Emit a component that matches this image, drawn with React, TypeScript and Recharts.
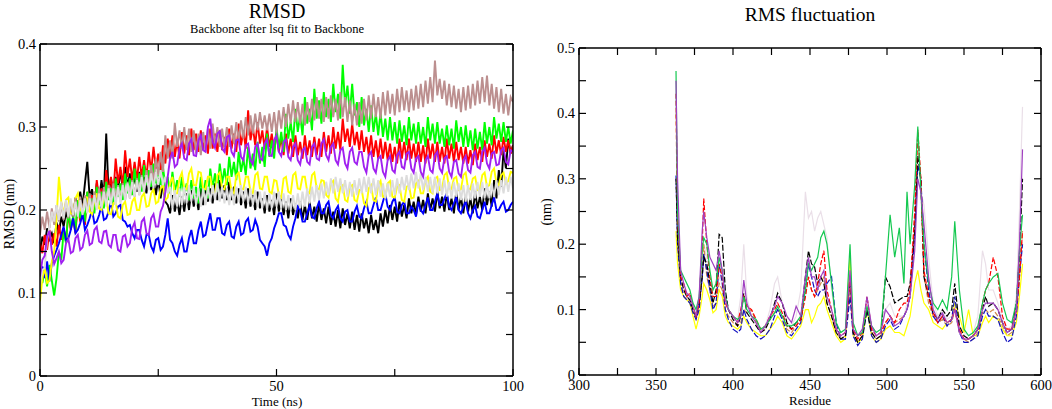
import React from "react";
import { LineChart, Line, XAxis, YAxis } from "recharts";

const SERIF = '"Liberation Serif", "DejaVu Serif", serif';

// ---------- RMSD (left panel), one frame every 0.5 ns ----------
const timeNs = [
  0, 0.5, 1, 1.5, 2, 2.5, 3, 3.5, 4, 4.5, 5, 5.5, 6, 6.5, 7, 7.5, 8, 8.5, 9, 9.5,
  10, 10.5, 11, 11.5, 12, 12.5, 13, 13.5, 14, 14.5, 15, 15.5, 16, 16.5, 17, 17.5, 18, 18.5, 19, 19.5,
  20, 20.5, 21, 21.5, 22, 22.5, 23, 23.5, 24, 24.5, 25, 25.5, 26, 26.5, 27, 27.5, 28, 28.5, 29, 29.5,
  30, 30.5, 31, 31.5, 32, 32.5, 33, 33.5, 34, 34.5, 35, 35.5, 36, 36.5, 37, 37.5, 38, 38.5, 39, 39.5,
  40, 40.5, 41, 41.5, 42, 42.5, 43, 43.5, 44, 44.5, 45, 45.5, 46, 46.5, 47, 47.5, 48, 48.5, 49, 49.5,
  50, 50.5, 51, 51.5, 52, 52.5, 53, 53.5, 54, 54.5, 55, 55.5, 56, 56.5, 57, 57.5, 58, 58.5, 59, 59.5,
  60, 60.5, 61, 61.5, 62, 62.5, 63, 63.5, 64, 64.5, 65, 65.5, 66, 66.5, 67, 67.5, 68, 68.5, 69, 69.5,
  70, 70.5, 71, 71.5, 72, 72.5, 73, 73.5, 74, 74.5, 75, 75.5, 76, 76.5, 77, 77.5, 78, 78.5, 79, 79.5,
  80, 80.5, 81, 81.5, 82, 82.5, 83, 83.5, 84, 84.5, 85, 85.5, 86, 86.5, 87, 87.5, 88, 88.5, 89, 89.5,
  90, 90.5, 91, 91.5, 92, 92.5, 93, 93.5, 94, 94.5, 95, 95.5, 96, 96.5, 97, 97.5, 98, 98.5, 99, 99.5,
  100,
];

const rmsdBlack = [
  0.150, 0.168, 0.158, 0.178, 0.165, 0.172, 0.160, 0.185, 0.172, 0.192, 0.180, 0.198, 0.186, 0.208, 0.190, 0.215, 0.200, 0.222, 0.205, 0.232,
  0.258, 0.215, 0.225, 0.205, 0.232, 0.212, 0.236, 0.215, 0.292, 0.220, 0.238, 0.218, 0.240, 0.222, 0.248, 0.226, 0.252, 0.228, 0.244, 0.224,
  0.242, 0.222, 0.246, 0.226, 0.240, 0.220, 0.244, 0.224, 0.236, 0.218, 0.238, 0.214, 0.232, 0.210, 0.206, 0.196, 0.218, 0.198, 0.212, 0.194,
  0.216, 0.198, 0.220, 0.200, 0.224, 0.204, 0.218, 0.200, 0.226, 0.206, 0.230, 0.210, 0.226, 0.208, 0.232, 0.212, 0.236, 0.214, 0.230, 0.212,
  0.234, 0.212, 0.228, 0.208, 0.226, 0.206, 0.222, 0.202, 0.226, 0.204, 0.218, 0.200, 0.222, 0.202, 0.214, 0.196, 0.218, 0.198, 0.212, 0.194,
  0.220, 0.198, 0.214, 0.194, 0.210, 0.190, 0.214, 0.194, 0.208, 0.190, 0.210, 0.188, 0.206, 0.188, 0.210, 0.190, 0.204, 0.186, 0.208, 0.188,
  0.202, 0.184, 0.204, 0.182, 0.198, 0.180, 0.200, 0.178, 0.202, 0.182, 0.196, 0.178, 0.198, 0.176, 0.194, 0.174, 0.196, 0.178, 0.190, 0.172,
  0.194, 0.176, 0.188, 0.172, 0.196, 0.180, 0.200, 0.184, 0.206, 0.188, 0.204, 0.186, 0.210, 0.192, 0.206, 0.190, 0.214, 0.196, 0.210, 0.194,
  0.216, 0.198, 0.212, 0.196, 0.220, 0.200, 0.214, 0.198, 0.222, 0.202, 0.216, 0.198, 0.220, 0.200, 0.214, 0.196, 0.222, 0.200, 0.216, 0.196,
  0.218, 0.198, 0.214, 0.196, 0.222, 0.202, 0.216, 0.200, 0.226, 0.206, 0.222, 0.204, 0.236, 0.214, 0.248, 0.228, 0.272, 0.250, 0.286, 0.268,
  0.278,
];
const rmsdRed = [
  0.160, 0.148, 0.170, 0.152, 0.176, 0.158, 0.172, 0.156, 0.182, 0.164, 0.178, 0.162, 0.196, 0.176, 0.190, 0.172, 0.208, 0.186, 0.200, 0.182,
  0.222, 0.198, 0.218, 0.200, 0.236, 0.212, 0.226, 0.206, 0.248, 0.222, 0.240, 0.218, 0.262, 0.232, 0.252, 0.228, 0.272, 0.240, 0.262, 0.236,
  0.258, 0.236, 0.264, 0.240, 0.260, 0.238, 0.270, 0.246, 0.276, 0.250, 0.268, 0.246, 0.278, 0.256, 0.286, 0.262, 0.290, 0.264, 0.284, 0.262,
  0.294, 0.268, 0.290, 0.266, 0.298, 0.272, 0.292, 0.270, 0.296, 0.272, 0.290, 0.268, 0.298, 0.274, 0.292, 0.270, 0.296, 0.272, 0.288, 0.266,
  0.298, 0.274, 0.292, 0.270, 0.304, 0.278, 0.296, 0.274, 0.320, 0.284, 0.300, 0.278, 0.306, 0.280, 0.296, 0.274, 0.300, 0.276, 0.292, 0.270,
  0.294, 0.270, 0.288, 0.266, 0.292, 0.268, 0.286, 0.264, 0.290, 0.266, 0.282, 0.262, 0.290, 0.266, 0.284, 0.264, 0.288, 0.266, 0.286, 0.264,
  0.294, 0.270, 0.290, 0.268, 0.300, 0.274, 0.294, 0.272, 0.310, 0.282, 0.298, 0.276, 0.304, 0.278, 0.294, 0.272, 0.296, 0.270, 0.288, 0.266,
  0.290, 0.264, 0.284, 0.262, 0.286, 0.262, 0.282, 0.260, 0.280, 0.258, 0.276, 0.256, 0.286, 0.262, 0.282, 0.260, 0.286, 0.262, 0.280, 0.258,
  0.282, 0.258, 0.278, 0.256, 0.286, 0.262, 0.280, 0.258, 0.282, 0.258, 0.276, 0.256, 0.286, 0.262, 0.280, 0.258, 0.282, 0.260, 0.276, 0.256,
  0.276, 0.256, 0.272, 0.254, 0.280, 0.260, 0.276, 0.258, 0.284, 0.264, 0.280, 0.262, 0.290, 0.268, 0.284, 0.266, 0.288, 0.270, 0.284, 0.268,
  0.278,
];
const rmsdGreen = [
  0.130, 0.112, 0.128, 0.108, 0.134, 0.115, 0.097, 0.118, 0.150, 0.140, 0.175, 0.160, 0.200, 0.178, 0.192, 0.176, 0.212, 0.190, 0.204, 0.186,
  0.222, 0.200, 0.214, 0.196, 0.228, 0.206, 0.222, 0.202, 0.234, 0.212, 0.226, 0.206, 0.238, 0.216, 0.232, 0.212, 0.244, 0.220, 0.238, 0.218,
  0.250, 0.226, 0.244, 0.222, 0.254, 0.230, 0.248, 0.228, 0.256, 0.232, 0.250, 0.230, 0.252, 0.228, 0.240, 0.220, 0.246, 0.222, 0.236, 0.216,
  0.240, 0.218, 0.232, 0.212, 0.236, 0.214, 0.228, 0.208, 0.240, 0.216, 0.236, 0.214, 0.250, 0.226, 0.244, 0.222, 0.256, 0.232, 0.250, 0.230,
  0.264, 0.240, 0.258, 0.236, 0.270, 0.246, 0.262, 0.242, 0.276, 0.250, 0.268, 0.248, 0.282, 0.256, 0.276, 0.252, 0.292, 0.264, 0.284, 0.262,
  0.300, 0.274, 0.294, 0.270, 0.316, 0.286, 0.306, 0.282, 0.322, 0.294, 0.314, 0.290, 0.336, 0.304, 0.322, 0.296, 0.346, 0.310, 0.332, 0.304,
  0.342, 0.312, 0.334, 0.306, 0.352, 0.318, 0.340, 0.310, 0.375, 0.326, 0.350, 0.316, 0.352, 0.314, 0.330, 0.300, 0.336, 0.302, 0.322, 0.294,
  0.326, 0.294, 0.316, 0.290, 0.318, 0.288, 0.310, 0.284, 0.312, 0.284, 0.306, 0.280, 0.308, 0.282, 0.302, 0.278, 0.312, 0.284, 0.304, 0.280,
  0.306, 0.280, 0.300, 0.276, 0.312, 0.284, 0.304, 0.280, 0.306, 0.280, 0.298, 0.276, 0.302, 0.278, 0.298, 0.274, 0.308, 0.282, 0.300, 0.276,
  0.302, 0.276, 0.296, 0.272, 0.298, 0.274, 0.294, 0.272, 0.306, 0.280, 0.300, 0.278, 0.312, 0.286, 0.304, 0.282, 0.306, 0.282, 0.300, 0.280,
  0.296,
];
const rmsdBlue = [
  0.120, 0.132, 0.118, 0.138, 0.114, 0.136, 0.145, 0.152, 0.160, 0.170, 0.180, 0.164, 0.166, 0.176, 0.190, 0.172, 0.176, 0.184, 0.195, 0.176,
  0.182, 0.190, 0.200, 0.184, 0.186, 0.194, 0.205, 0.188, 0.190, 0.198, 0.210, 0.192, 0.196, 0.204, 0.206, 0.188, 0.186, 0.180, 0.182, 0.172,
  0.166, 0.176, 0.176, 0.164, 0.156, 0.170, 0.170, 0.156, 0.150, 0.164, 0.166, 0.152, 0.156, 0.170, 0.190, 0.164, 0.160, 0.150, 0.145, 0.158,
  0.166, 0.150, 0.150, 0.166, 0.176, 0.160, 0.160, 0.176, 0.186, 0.168, 0.170, 0.184, 0.196, 0.176, 0.176, 0.190, 0.190, 0.172, 0.170, 0.182,
  0.186, 0.168, 0.166, 0.180, 0.186, 0.170, 0.172, 0.186, 0.190, 0.174, 0.176, 0.188, 0.180, 0.164, 0.160, 0.156, 0.145, 0.160, 0.166, 0.178,
  0.186, 0.196, 0.196, 0.182, 0.180, 0.170, 0.165, 0.180, 0.190, 0.204, 0.200, 0.186, 0.186, 0.196, 0.205, 0.192, 0.190, 0.202, 0.210, 0.196,
  0.196, 0.206, 0.210, 0.194, 0.190, 0.200, 0.205, 0.190, 0.186, 0.198, 0.200, 0.186, 0.186, 0.198, 0.205, 0.192, 0.190, 0.202, 0.210, 0.196,
  0.196, 0.206, 0.215, 0.200, 0.200, 0.210, 0.220, 0.204, 0.200, 0.210, 0.215, 0.198, 0.196, 0.206, 0.210, 0.196, 0.196, 0.204, 0.200, 0.192,
  0.210, 0.200, 0.196, 0.206, 0.215, 0.200, 0.200, 0.210, 0.220, 0.206, 0.206, 0.214, 0.220, 0.204, 0.200, 0.208, 0.215, 0.200, 0.196, 0.204,
  0.210, 0.196, 0.190, 0.200, 0.205, 0.192, 0.190, 0.200, 0.210, 0.196, 0.196, 0.206, 0.215, 0.200, 0.200, 0.206, 0.210, 0.198, 0.200, 0.206,
  0.210,
];
const rmsdYellow = [
  0.090, 0.118, 0.130, 0.112, 0.115, 0.138, 0.150, 0.190, 0.240, 0.210, 0.195, 0.212, 0.215, 0.196, 0.195, 0.214, 0.220, 0.200, 0.200, 0.216,
  0.215, 0.198, 0.195, 0.212, 0.220, 0.202, 0.200, 0.214, 0.215, 0.196, 0.195, 0.208, 0.210, 0.192, 0.190, 0.206, 0.210, 0.194, 0.195, 0.210,
  0.215, 0.200, 0.200, 0.216, 0.220, 0.204, 0.205, 0.220, 0.225, 0.208, 0.210, 0.226, 0.230, 0.212, 0.215, 0.232, 0.240, 0.220, 0.220, 0.238,
  0.245, 0.226, 0.225, 0.244, 0.250, 0.230, 0.230, 0.246, 0.245, 0.226, 0.225, 0.240, 0.240, 0.222, 0.220, 0.242, 0.245, 0.226, 0.225, 0.240,
  0.240, 0.222, 0.220, 0.242, 0.245, 0.226, 0.225, 0.240, 0.240, 0.222, 0.220, 0.242, 0.245, 0.226, 0.225, 0.240, 0.240, 0.222, 0.220, 0.236,
  0.235, 0.218, 0.215, 0.238, 0.240, 0.222, 0.220, 0.242, 0.245, 0.226, 0.225, 0.240, 0.240, 0.222, 0.220, 0.242, 0.245, 0.226, 0.225, 0.236,
  0.235, 0.218, 0.215, 0.232, 0.235, 0.214, 0.210, 0.228, 0.230, 0.212, 0.210, 0.228, 0.230, 0.212, 0.210, 0.224, 0.225, 0.208, 0.205, 0.226,
  0.230, 0.212, 0.210, 0.230, 0.235, 0.216, 0.215, 0.232, 0.235, 0.216, 0.215, 0.228, 0.230, 0.212, 0.210, 0.228, 0.230, 0.214, 0.215, 0.232,
  0.235, 0.220, 0.220, 0.236, 0.240, 0.222, 0.220, 0.238, 0.240, 0.224, 0.225, 0.242, 0.245, 0.226, 0.225, 0.238, 0.240, 0.224, 0.225, 0.242,
  0.245, 0.226, 0.225, 0.238, 0.240, 0.224, 0.225, 0.242, 0.245, 0.228, 0.230, 0.246, 0.250, 0.232, 0.230, 0.242, 0.245, 0.232, 0.235, 0.246,
  0.245,
];
const rmsdBrown = [
  0.170, 0.192, 0.176, 0.198, 0.178, 0.202, 0.182, 0.206, 0.186, 0.208, 0.188, 0.210, 0.190, 0.212, 0.192, 0.214, 0.194, 0.216, 0.196, 0.218,
  0.198, 0.220, 0.200, 0.222, 0.202, 0.226, 0.206, 0.228, 0.208, 0.230, 0.210, 0.232, 0.212, 0.230, 0.210, 0.232, 0.212, 0.234, 0.214, 0.236,
  0.216, 0.238, 0.218, 0.242, 0.222, 0.248, 0.228, 0.254, 0.234, 0.262, 0.242, 0.270, 0.246, 0.290, 0.262, 0.284, 0.262, 0.305, 0.276, 0.296,
  0.274, 0.300, 0.272, 0.298, 0.270, 0.296, 0.268, 0.292, 0.266, 0.294, 0.270, 0.298, 0.274, 0.304, 0.278, 0.300, 0.276, 0.298, 0.276, 0.300,
  0.276, 0.302, 0.280, 0.306, 0.284, 0.308, 0.286, 0.312, 0.290, 0.314, 0.292, 0.316, 0.296, 0.318, 0.298, 0.314, 0.296, 0.316, 0.294, 0.318,
  0.292, 0.320, 0.298, 0.324, 0.300, 0.328, 0.304, 0.332, 0.306, 0.330, 0.304, 0.328, 0.302, 0.330, 0.306, 0.334, 0.308, 0.336, 0.310, 0.334,
  0.306, 0.336, 0.310, 0.338, 0.312, 0.334, 0.308, 0.342, 0.312, 0.336, 0.306, 0.332, 0.302, 0.328, 0.302, 0.330, 0.304, 0.334, 0.308, 0.338,
  0.310, 0.340, 0.312, 0.336, 0.310, 0.342, 0.314, 0.344, 0.316, 0.340, 0.314, 0.346, 0.318, 0.348, 0.320, 0.344, 0.318, 0.346, 0.320, 0.350,
  0.322, 0.352, 0.324, 0.356, 0.328, 0.360, 0.330, 0.380, 0.338, 0.358, 0.334, 0.356, 0.326, 0.352, 0.324, 0.350, 0.322, 0.346, 0.318, 0.348,
  0.320, 0.350, 0.322, 0.352, 0.326, 0.356, 0.328, 0.360, 0.330, 0.362, 0.326, 0.352, 0.322, 0.348, 0.318, 0.346, 0.316, 0.340, 0.314, 0.336,
  0.330,
];
const rmsdGray = [
  0.110, 0.128, 0.130, 0.165, 0.180, 0.198, 0.186, 0.206, 0.188, 0.210, 0.190, 0.212, 0.192, 0.214, 0.194, 0.210, 0.192, 0.212, 0.194, 0.214,
  0.196, 0.214, 0.198, 0.218, 0.200, 0.220, 0.202, 0.222, 0.204, 0.226, 0.206, 0.226, 0.206, 0.228, 0.208, 0.230, 0.212, 0.232, 0.214, 0.234,
  0.216, 0.236, 0.218, 0.240, 0.222, 0.242, 0.224, 0.244, 0.226, 0.246, 0.230, 0.248, 0.230, 0.240, 0.220, 0.228, 0.202, 0.224, 0.204, 0.226,
  0.206, 0.228, 0.208, 0.230, 0.210, 0.228, 0.206, 0.226, 0.204, 0.226, 0.206, 0.228, 0.210, 0.230, 0.212, 0.232, 0.210, 0.228, 0.208, 0.226,
  0.206, 0.226, 0.206, 0.228, 0.210, 0.230, 0.210, 0.228, 0.208, 0.226, 0.206, 0.224, 0.204, 0.222, 0.202, 0.222, 0.200, 0.220, 0.202, 0.222,
  0.204, 0.222, 0.202, 0.220, 0.200, 0.218, 0.200, 0.218, 0.200, 0.220, 0.202, 0.222, 0.204, 0.226, 0.208, 0.228, 0.210, 0.230, 0.212, 0.232,
  0.214, 0.234, 0.218, 0.238, 0.220, 0.240, 0.222, 0.238, 0.220, 0.236, 0.216, 0.234, 0.216, 0.236, 0.218, 0.238, 0.220, 0.240, 0.222, 0.240,
  0.220, 0.238, 0.218, 0.236, 0.216, 0.232, 0.214, 0.232, 0.216, 0.236, 0.218, 0.238, 0.220, 0.240, 0.224, 0.242, 0.224, 0.244, 0.226, 0.246,
  0.226, 0.244, 0.224, 0.240, 0.222, 0.240, 0.220, 0.240, 0.220, 0.238, 0.218, 0.236, 0.216, 0.234, 0.214, 0.234, 0.216, 0.232, 0.212, 0.230,
  0.210, 0.230, 0.212, 0.232, 0.214, 0.234, 0.216, 0.234, 0.214, 0.232, 0.214, 0.232, 0.216, 0.236, 0.218, 0.236, 0.220, 0.240, 0.222, 0.240,
  0.226,
];
const rmsdViolet = [
  0.120, 0.140, 0.145, 0.168, 0.175, 0.150, 0.135, 0.142, 0.150, 0.136, 0.140, 0.160, 0.165, 0.148, 0.150, 0.166, 0.170, 0.152, 0.155, 0.170,
  0.175, 0.158, 0.160, 0.176, 0.180, 0.162, 0.160, 0.174, 0.175, 0.158, 0.155, 0.170, 0.170, 0.152, 0.150, 0.168, 0.170, 0.156, 0.160, 0.178,
  0.185, 0.166, 0.165, 0.186, 0.190, 0.172, 0.170, 0.190, 0.195, 0.180, 0.180, 0.198, 0.205, 0.222, 0.240, 0.262, 0.270, 0.252, 0.255, 0.274,
  0.280, 0.262, 0.260, 0.280, 0.285, 0.266, 0.265, 0.284, 0.290, 0.272, 0.270, 0.300, 0.310, 0.282, 0.275, 0.292, 0.295, 0.274, 0.270, 0.288,
  0.290, 0.270, 0.265, 0.284, 0.285, 0.264, 0.260, 0.278, 0.280, 0.260, 0.255, 0.276, 0.280, 0.262, 0.260, 0.280, 0.285, 0.266, 0.265, 0.284,
  0.290, 0.270, 0.265, 0.282, 0.285, 0.264, 0.260, 0.276, 0.280, 0.260, 0.255, 0.272, 0.275, 0.258, 0.255, 0.276, 0.280, 0.262, 0.260, 0.280,
  0.285, 0.266, 0.260, 0.276, 0.280, 0.260, 0.255, 0.272, 0.275, 0.256, 0.250, 0.270, 0.275, 0.258, 0.255, 0.270, 0.270, 0.252, 0.245, 0.266,
  0.270, 0.250, 0.245, 0.262, 0.265, 0.246, 0.240, 0.260, 0.265, 0.248, 0.245, 0.266, 0.270, 0.252, 0.250, 0.268, 0.270, 0.250, 0.245, 0.262,
  0.265, 0.246, 0.240, 0.260, 0.265, 0.248, 0.245, 0.266, 0.270, 0.250, 0.245, 0.262, 0.265, 0.246, 0.240, 0.258, 0.260, 0.244, 0.240, 0.260,
  0.265, 0.248, 0.245, 0.266, 0.270, 0.252, 0.250, 0.270, 0.275, 0.256, 0.250, 0.268, 0.270, 0.254, 0.255, 0.272, 0.275, 0.258, 0.255, 0.272,
  0.270,
];

const rmsdXTicks = [0, 25, 50, 75, 100];
const rmsdXLabels = [0, 50, 100];
const rmsdYTicks = [0, 0.05, 0.1, 0.15, 0.2, 0.25, 0.3, 0.35, 0.4];
const rmsdYLabels = [0, 0.1, 0.2, 0.3, 0.4];

// ---------- RMSF (right panel) ----------
const residues = [
  363, 364, 366, 368, 370, 372, 374, 376, 378, 380, 381, 383, 385, 387, 389, 391, 393, 395, 397, 400,
  403, 405, 407, 409, 412, 415, 418, 421, 424, 427, 429, 432, 435, 438, 441, 444, 447, 449, 451, 453,
  455, 457, 459, 461, 464, 467, 470, 473, 476, 478, 481, 484, 487, 490, 493, 496, 499, 502, 505, 508,
  511, 513, 515, 518, 520, 522, 524, 527, 530, 533, 536, 539, 542, 544, 547, 550, 553, 556, 559, 562,
  564, 566, 569, 572, 575, 578, 581, 584, 586, 588,
];

const rmsfGreen = [
  0.465, 0.25, 0.16, 0.15, 0.14, 0.13, 0.11, 0.10, 0.12, 0.19, 0.21, 0.20, 0.16, 0.13, 0.14, 0.18, 0.16, 0.12, 0.10, 0.09,
  0.085, 0.09, 0.12, 0.10, 0.09, 0.085, 0.07, 0.075, 0.085, 0.095, 0.105, 0.09, 0.075, 0.075, 0.08, 0.09, 0.13, 0.17, 0.16, 0.17,
  0.18, 0.21, 0.22, 0.20, 0.14, 0.08, 0.065, 0.07, 0.20, 0.08, 0.06, 0.065, 0.105, 0.075, 0.065, 0.07, 0.15, 0.245, 0.18, 0.225,
  0.14, 0.28, 0.20, 0.29, 0.38, 0.28, 0.20, 0.14, 0.11, 0.10, 0.115, 0.10, 0.15, 0.235, 0.13, 0.07, 0.06, 0.065, 0.075, 0.11,
  0.13, 0.14, 0.15, 0.155, 0.11, 0.085, 0.08, 0.11, 0.19, 0.245,
];
const rmsfBlack = [
  0.30, 0.21, 0.15, 0.13, 0.12, 0.115, 0.10, 0.09, 0.11, 0.15, 0.18, 0.17, 0.14, 0.11, 0.13, 0.215, 0.21, 0.13, 0.10, 0.085,
  0.075, 0.09, 0.125, 0.095, 0.085, 0.075, 0.065, 0.07, 0.085, 0.11, 0.125, 0.11, 0.08, 0.07, 0.08, 0.085, 0.15, 0.19, 0.17, 0.165,
  0.14, 0.15, 0.14, 0.11, 0.09, 0.065, 0.055, 0.06, 0.15, 0.065, 0.05, 0.06, 0.10, 0.065, 0.055, 0.06, 0.15, 0.135, 0.11, 0.115,
  0.12, 0.12, 0.14, 0.22, 0.335, 0.30, 0.15, 0.12, 0.095, 0.085, 0.10, 0.09, 0.10, 0.14, 0.075, 0.06, 0.055, 0.06, 0.07, 0.10,
  0.12, 0.105, 0.11, 0.10, 0.08, 0.065, 0.07, 0.11, 0.18, 0.30,
];
const rmsfRed = [
  0.43, 0.24, 0.15, 0.14, 0.12, 0.125, 0.105, 0.09, 0.11, 0.20, 0.27, 0.20, 0.15, 0.12, 0.12, 0.17, 0.15, 0.11, 0.10, 0.09,
  0.08, 0.10, 0.12, 0.105, 0.10, 0.085, 0.07, 0.075, 0.09, 0.10, 0.11, 0.095, 0.075, 0.07, 0.075, 0.085, 0.12, 0.15, 0.13, 0.12,
  0.14, 0.17, 0.19, 0.13, 0.10, 0.07, 0.06, 0.065, 0.15, 0.07, 0.055, 0.065, 0.12, 0.07, 0.06, 0.065, 0.08, 0.09, 0.08, 0.10,
  0.11, 0.11, 0.13, 0.25, 0.375, 0.30, 0.16, 0.12, 0.095, 0.08, 0.09, 0.08, 0.085, 0.10, 0.07, 0.055, 0.055, 0.06, 0.07, 0.11,
  0.13, 0.14, 0.18, 0.15, 0.09, 0.07, 0.07, 0.10, 0.15, 0.22,
];
const rmsfBlue = [
  0.305, 0.20, 0.14, 0.12, 0.115, 0.11, 0.095, 0.085, 0.10, 0.15, 0.185, 0.16, 0.13, 0.10, 0.11, 0.17, 0.14, 0.10, 0.085, 0.07,
  0.065, 0.07, 0.10, 0.085, 0.07, 0.06, 0.055, 0.06, 0.07, 0.09, 0.10, 0.085, 0.065, 0.06, 0.07, 0.08, 0.13, 0.17, 0.15, 0.13,
  0.12, 0.13, 0.13, 0.14, 0.15, 0.08, 0.055, 0.055, 0.12, 0.06, 0.045, 0.055, 0.10, 0.06, 0.05, 0.055, 0.075, 0.085, 0.07, 0.075,
  0.09, 0.10, 0.12, 0.21, 0.32, 0.30, 0.20, 0.13, 0.09, 0.08, 0.09, 0.075, 0.085, 0.12, 0.065, 0.05, 0.05, 0.055, 0.06, 0.09,
  0.10, 0.09, 0.09, 0.085, 0.065, 0.05, 0.055, 0.09, 0.15, 0.20,
];
const rmsfYellow = [
  0.22, 0.17, 0.13, 0.12, 0.115, 0.11, 0.09, 0.07, 0.09, 0.12, 0.14, 0.13, 0.115, 0.095, 0.10, 0.13, 0.12, 0.09, 0.08, 0.075,
  0.07, 0.075, 0.09, 0.08, 0.07, 0.065, 0.06, 0.06, 0.07, 0.08, 0.09, 0.08, 0.06, 0.055, 0.065, 0.075, 0.10, 0.10, 0.08, 0.09,
  0.105, 0.11, 0.12, 0.10, 0.08, 0.06, 0.05, 0.055, 0.185, 0.06, 0.05, 0.055, 0.10, 0.06, 0.05, 0.055, 0.07, 0.075, 0.065, 0.065,
  0.06, 0.075, 0.09, 0.14, 0.16, 0.13, 0.11, 0.10, 0.08, 0.075, 0.07, 0.08, 0.085, 0.11, 0.09, 0.065, 0.10, 0.06, 0.06, 0.08,
  0.09, 0.08, 0.09, 0.085, 0.07, 0.06, 0.06, 0.08, 0.12, 0.17,
];
const rmsfViolet = [
  0.45, 0.30, 0.16, 0.14, 0.125, 0.12, 0.105, 0.09, 0.12, 0.22, 0.25, 0.21, 0.18, 0.17, 0.16, 0.19, 0.16, 0.115, 0.10, 0.09,
  0.08, 0.09, 0.145, 0.11, 0.09, 0.08, 0.065, 0.075, 0.09, 0.105, 0.12, 0.11, 0.09, 0.08, 0.105, 0.09, 0.15, 0.18, 0.15, 0.15,
  0.13, 0.15, 0.16, 0.12, 0.10, 0.07, 0.06, 0.065, 0.16, 0.07, 0.06, 0.07, 0.12, 0.075, 0.06, 0.065, 0.10, 0.09, 0.075, 0.08,
  0.09, 0.10, 0.12, 0.19, 0.30, 0.28, 0.23, 0.15, 0.10, 0.085, 0.095, 0.08, 0.085, 0.10, 0.065, 0.055, 0.055, 0.06, 0.07, 0.10,
  0.11, 0.11, 0.11, 0.10, 0.08, 0.065, 0.07, 0.10, 0.20, 0.345,
];
const rmsfPink = [
  0.42, 0.26, 0.15, 0.13, 0.125, 0.12, 0.105, 0.09, 0.11, 0.17, 0.20, 0.18, 0.15, 0.12, 0.12, 0.15, 0.14, 0.11, 0.10, 0.09,
  0.085, 0.12, 0.20, 0.12, 0.09, 0.08, 0.065, 0.075, 0.10, 0.14, 0.15, 0.11, 0.08, 0.075, 0.09, 0.13, 0.28, 0.24, 0.25, 0.22,
  0.24, 0.25, 0.23, 0.21, 0.13, 0.08, 0.065, 0.07, 0.12, 0.07, 0.06, 0.07, 0.11, 0.075, 0.065, 0.07, 0.10, 0.11, 0.09, 0.09,
  0.09, 0.11, 0.14, 0.22, 0.30, 0.28, 0.26, 0.18, 0.11, 0.09, 0.10, 0.085, 0.09, 0.10, 0.075, 0.065, 0.06, 0.065, 0.09, 0.19,
  0.17, 0.13, 0.13, 0.11, 0.085, 0.07, 0.075, 0.12, 0.25, 0.41,
];
const rmsfBrown = [
  0.40, 0.22, 0.14, 0.12, 0.115, 0.115, 0.10, 0.085, 0.10, 0.15, 0.20, 0.15, 0.13, 0.105, 0.11, 0.14, 0.13, 0.10, 0.09, 0.08,
  0.075, 0.08, 0.10, 0.095, 0.10, 0.08, 0.065, 0.07, 0.085, 0.095, 0.10, 0.09, 0.07, 0.065, 0.075, 0.085, 0.12, 0.15, 0.13, 0.12,
  0.13, 0.14, 0.15, 0.11, 0.09, 0.065, 0.055, 0.06, 0.14, 0.065, 0.05, 0.06, 0.10, 0.065, 0.055, 0.06, 0.08, 0.09, 0.08, 0.085,
  0.09, 0.10, 0.12, 0.24, 0.37, 0.29, 0.15, 0.11, 0.09, 0.08, 0.085, 0.075, 0.08, 0.10, 0.065, 0.055, 0.05, 0.055, 0.065, 0.095,
  0.10, 0.095, 0.10, 0.09, 0.075, 0.06, 0.065, 0.095, 0.15, 0.22,
];

const rmsfXTicks = [300, 325, 350, 375, 400, 425, 450, 475, 500, 525, 550, 575, 600];
const rmsfXLabels = [300, 350, 400, 450, 500, 550, 600];
const rmsfYTicks = [0, 0.05, 0.1, 0.15, 0.2, 0.25, 0.3, 0.35, 0.4, 0.45, 0.5];
const rmsfYLabels = [0, 0.1, 0.2, 0.3, 0.4, 0.5];

const rmsdSeries = [
  { key: "black", color: "#000000", values: rmsdBlack },
  { key: "red", color: "#ff0000", values: rmsdRed },
  { key: "green", color: "#00ff00", values: rmsdGreen },
  { key: "blue", color: "#0000ff", values: rmsdBlue },
  { key: "yellow", color: "#ffff00", values: rmsdYellow },
  { key: "brown", color: "#bc8f8f", values: rmsdBrown },
  { key: "gray", color: "#dcdcdc", values: rmsdGray },
  { key: "violet", color: "#a020f0", values: rmsdViolet },
];

const rmsfSeries = [
  { key: "pink", color: "#eadfe8", values: rmsfPink, dash: undefined },
  { key: "brown", color: "#d08a4a", values: rmsfBrown, dash: "5 2" },
  { key: "yellow", color: "#ffff00", values: rmsfYellow, dash: undefined },
  { key: "blue", color: "#1010c0", values: rmsfBlue, dash: "6 2" },
  { key: "black", color: "#000000", values: rmsfBlack, dash: "6 2" },
  { key: "red", color: "#ff0000", values: rmsfRed, dash: "5 2" },
  { key: "green", color: "#14c850", values: rmsfGreen, dash: undefined },
  { key: "violet", color: "#a040c0", values: rmsfViolet, dash: undefined },
];

const rmsdRows = timeNs.map((t, i) => {
  const row: Record<string, number> = { t };
  rmsdSeries.forEach((s) => (row[s.key] = s.values[i]));
  return row;
});

const rmsfRows = residues.map((r, i) => {
  const row: Record<string, number> = { r };
  rmsfSeries.forEach((s) => (row[s.key] = s.values[i]));
  return row;
});

const hasLabel = (labels: number[], v: number) => labels.some((l) => Math.abs(l - v) < 1e-9);

// tick text in Times-like serif; only some ticks carry a number
const makeTick = (labels: number[], side: "bottom" | "left") => (props: any) => {
  const { x, y, payload } = props;
  const v = payload.value as number;
  if (!hasLabel(labels, v)) return <g />;
  const txt = String(Number(v.toFixed(2)));
  return (
    <text
      x={x}
      y={y}
      dy={side === "bottom" ? "0.72em" : "0.34em"}
      textAnchor={side === "bottom" ? "middle" : "end"}
      style={{ fontFamily: SERIF, fontSize: 14.5 }}
      fill="#000"
    >
      {txt}
    </text>
  );
};

const frame = { stroke: "#000", strokeWidth: 1.5 };
const tickLine = { stroke: "#000", strokeWidth: 1.2 };

// xmgrace-like box: inward ticks on all four sides, labels only on bottom/left
function axes(
  xKey: string,
  xDomain: [number, number],
  xTicks: number[],
  xLabels: number[],
  yDomain: [number, number],
  yTicks: number[],
  yLabels: number[]
) {
  return [
    <XAxis
      key="xb"
      xAxisId="b"
      dataKey={xKey}
      type="number"
      domain={xDomain}
      ticks={xTicks}
      interval={0}
      allowDataOverflow
      height={1}
      tickSize={-7}
      tickMargin={12}
      tick={makeTick(xLabels, "bottom")}
      axisLine={frame}
      tickLine={tickLine}
    />,
    <XAxis
      key="xt"
      xAxisId="t"
      orientation="top"
      dataKey={xKey}
      type="number"
      domain={xDomain}
      ticks={xTicks}
      interval={0}
      allowDataOverflow
      height={1}
      tickSize={-7}
      tick={makeTick([], "bottom")}
      axisLine={frame}
      tickLine={tickLine}
    />,
    <YAxis
      key="yl"
      yAxisId="l"
      type="number"
      domain={yDomain}
      ticks={yTicks}
      interval={0}
      allowDataOverflow
      width={1}
      tickSize={-7}
      tickMargin={11}
      tick={makeTick(yLabels, "left")}
      axisLine={frame}
      tickLine={tickLine}
    />,
    <YAxis
      key="yr"
      yAxisId="r"
      orientation="right"
      type="number"
      domain={yDomain}
      ticks={yTicks}
      interval={0}
      allowDataOverflow
      width={1}
      tickSize={-7}
      tick={makeTick([], "left")}
      axisLine={frame}
      tickLine={tickLine}
    />,
  ];
}

const textBase: React.CSSProperties = {
  position: "absolute",
  fontFamily: SERIF,
  color: "#000",
  whiteSpace: "nowrap",
  lineHeight: 1,
};

export default function App() {
  return (
    <div style={{ position: "absolute", left: 0, top: 0, width: 1052, height: 409, background: "#fff", overflow: "hidden" }}>
      {/* left panel */}
      <div style={{ position: "absolute", left: 0, top: 0 }}>
        <LineChart width={530} height={409} data={rmsdRows} margin={{ top: 43, right: 16, bottom: 32, left: 39 }}>
          {axes("t", [0, 100], rmsdXTicks, rmsdXLabels, [0, 0.4], rmsdYTicks, rmsdYLabels)}
          {rmsdSeries.map((s) => (
            <Line
              key={s.key}
              xAxisId="b"
              yAxisId="l"
              dataKey={s.key}
              type="linear"
              stroke={s.color}
              strokeWidth={1.9}
              dot={false}
              isAnimationActive={false}
            />
          ))}
        </LineChart>
      </div>
      <div style={{ ...textBase, left: 277, top: 1, fontSize: 20, transform: "translateX(-50%)" }}>RMSD</div>
      <div style={{ ...textBase, left: 277, top: 23, fontSize: 12.5, transform: "translateX(-50%)" }}>
        Backbone after lsq fit to Backbone
      </div>
      <div style={{ ...textBase, left: 277, top: 395, fontSize: 13, transform: "translateX(-50%)" }}>Time (ns)</div>
      <div
        style={{ ...textBase, left: 10, top: 214, fontSize: 14, transform: "translate(-50%, -50%) rotate(-90deg)" }}
      >
        RMSD (nm)
      </div>

      {/* right panel */}
      <div style={{ position: "absolute", left: 530, top: 0 }}>
        <LineChart width={522} height={409} data={rmsfRows} margin={{ top: 47, right: 10, bottom: 33, left: 48 }}>
          {axes("r", [300, 600], rmsfXTicks, rmsfXLabels, [0, 0.5], rmsfYTicks, rmsfYLabels)}
          {rmsfSeries.map((s) => (
            <Line
              key={s.key}
              xAxisId="b"
              yAxisId="l"
              dataKey={s.key}
              type="linear"
              stroke={s.color}
              strokeWidth={1.2}
              strokeDasharray={s.dash}
              dot={false}
              isAnimationActive={false}
            />
          ))}
        </LineChart>
      </div>
      <div style={{ ...textBase, left: 810, top: 5, fontSize: 19.5, transform: "translateX(-50%)" }}>RMS fluctuation</div>
      <div style={{ ...textBase, left: 810, top: 394, fontSize: 13, transform: "translateX(-50%)" }}>Residue</div>
      <div
        style={{ ...textBase, left: 547, top: 212, fontSize: 14, transform: "translate(-50%, -50%) rotate(-90deg)" }}
      >
        (nm)
      </div>
    </div>
  );
}
